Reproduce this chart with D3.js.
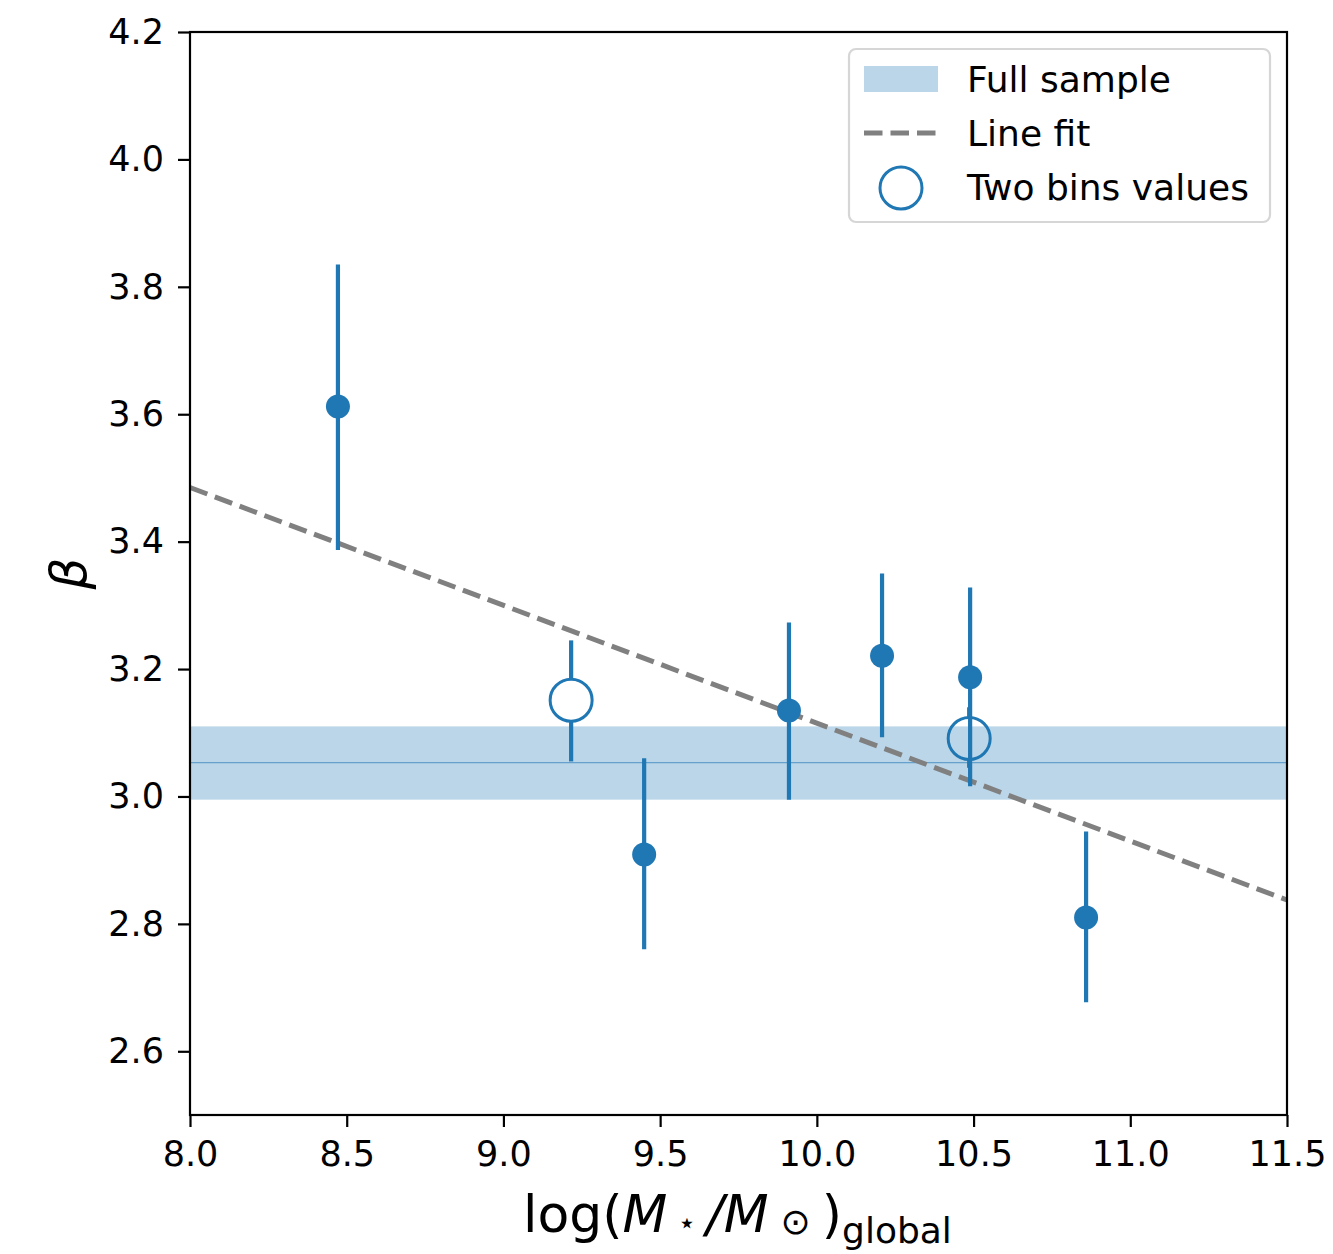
<!DOCTYPE html>
<html>
<head>
<meta charset="utf-8">
<script src="https://cdn.jsdelivr.net/npm/d3@7"></script>
<style>
  body { margin: 0; background: #fff; }
  text { font-family: "DejaVu Sans", sans-serif; }
</style>
</head>
<body>
<script>
// binned beta values (filled points)
var binMass = [8.472, 9.449, 9.911, 10.208, 10.489, 10.859];
var binBeta = [3.612, 2.909, 3.135, 3.221, 3.187, 2.810];
var binLo   = [3.387, 2.760, 2.995, 3.093, 3.016, 2.677];
var binHi   = [3.835, 3.060, 3.273, 3.350, 3.328, 2.945];

// two-bin values (open circles)
var twoMass = [9.216, 10.486];
var twoBeta = [3.151, 3.091];
var twoLo   = [3.055, 3.045];
var twoHi   = [3.245, 3.140];

// full-sample value and band
var fullBeta = 3.053, fullLo = 2.995, fullHi = 3.110;

// line fit: beta = a + b * (logM - 8)
var fitA = 3.485, fitB = -0.185;

var xTicks = [8.0, 8.5, 9.0, 9.5, 10.0, 10.5, 11.0, 11.5];
var yTicks = [2.6, 2.8, 3.0, 3.2, 3.4, 3.6, 3.8, 4.0, 4.2];

var width = 1333, height = 1254;
var margin = {left: 190, right: 46, top: 32, bottom: 139};
var blue = "#1f77b4";

var svg = d3.select("body").append("svg").attr("width", width).attr("height", height);

var x = d3.scaleLinear().domain([8.0, 11.5]).range([margin.left, width - margin.right]);
var y = d3.scaleLinear().domain([2.5, 4.2]).range([height - margin.bottom, margin.top]);

var plot = svg.append("g");

// open circles with their error bars (under the band)
twoMass.forEach(function(m, i){
  plot.append("line")
      .attr("x1", x(m)).attr("x2", x(m))
      .attr("y1", y(twoLo[i])).attr("y2", y(twoHi[i]))
      .attr("stroke", blue).attr("stroke-width", 4.2);
  plot.append("circle")
      .attr("cx", x(m)).attr("cy", y(twoBeta[i])).attr("r", 21)
      .attr("fill", "#fff").attr("stroke", blue).attr("stroke-width", 3);
});

// full sample band
plot.append("rect")
    .attr("x", x(8.0)).attr("width", x(11.5) - x(8.0))
    .attr("y", y(fullHi)).attr("height", y(fullLo) - y(fullHi))
    .attr("fill", blue).attr("fill-opacity", 0.3);
plot.append("line")
    .attr("x1", x(8.0)).attr("x2", x(11.5))
    .attr("y1", y(fullBeta)).attr("y2", y(fullBeta))
    .attr("stroke", blue).attr("stroke-opacity", 0.55).attr("stroke-width", 1.3);

// line fit
plot.append("line")
    .attr("x1", x(8.0)).attr("x2", x(11.5))
    .attr("y1", y(fitA)).attr("y2", y(fitA + fitB * 3.5))
    .attr("stroke", "#808080").attr("stroke-width", 5)
    .attr("stroke-dasharray", "18.5,8");

// filled points with error bars
binMass.forEach(function(m, i){
  plot.append("line")
      .attr("x1", x(m)).attr("x2", x(m))
      .attr("y1", y(binLo[i])).attr("y2", y(binHi[i]))
      .attr("stroke", blue).attr("stroke-width", 4.2);
  plot.append("circle")
      .attr("cx", x(m)).attr("cy", y(binBeta[i])).attr("r", 12)
      .attr("fill", blue);
});

// axes
var xAxis = d3.axisBottom(x).tickValues(xTicks).tickFormat(d3.format(".1f")).tickSizeOuter(0).tickSize(12).tickPadding(14);
var yAxis = d3.axisLeft(y).tickValues(yTicks).tickFormat(d3.format(".1f")).tickSizeOuter(0).tickSize(12).tickPadding(14);

var gx = svg.append("g").attr("transform", "translate(0," + (height - margin.bottom) + ")").call(xAxis);
var gy = svg.append("g").attr("transform", "translate(" + margin.left + ",0)").call(yAxis);
[gx, gy].forEach(function(g){
  g.select(".domain").remove();
  g.selectAll(".tick line").attr("stroke", "#000").attr("stroke-width", 2.2);
  g.selectAll(".tick text").attr("fill", "#000").style("font-size", "35px").style("font-family", "DejaVu Sans");
});

// frame
svg.append("rect")
    .attr("x", x(8.0)).attr("y", y(4.2))
    .attr("width", x(11.5) - x(8.0)).attr("height", y(2.5) - y(4.2))
    .attr("fill", "none").attr("stroke", "#000").attr("stroke-width", 2.2);

// x label
var xl = svg.append("text")
    .attr("x", 523).attr("y", 1232)
    .style("font-size", "52px");
xl.append("tspan").text("log(");
xl.append("tspan").style("font-style", "italic").text("M");
xl.append("tspan").attr("dx", 10).attr("dy", 1).style("font-size", "30px").text("\u22c6");
xl.append("tspan").attr("dx", 10).attr("dy", -1).style("font-style", "italic").text("/M");
xl.append("tspan").attr("dx", 12).attr("dy", 2).style("font-size", "36px").text("\u2299");
xl.append("tspan").attr("dx", 11).attr("dy", -2).text(")");
xl.append("tspan").attr("dy", 11).style("font-size", "36px").text("global");

// y label
svg.append("text")
    .attr("transform", "translate(86," + ((y(2.5) + y(4.2)) / 2) + ") rotate(-90)")
    .attr("text-anchor", "middle")
    .style("font-size", "50px").style("font-style", "italic")
    .text("\u03b2");

// legend
var lg = svg.append("g");
lg.append("rect")
    .attr("x", 849).attr("y", 49).attr("width", 421).attr("height", 173)
    .attr("rx", 7).attr("fill", "#fff").attr("fill-opacity", 0.8)
    .attr("stroke", "#d6d6d6").attr("stroke-width", 2.2);
lg.append("rect")
    .attr("x", 864).attr("y", 66).attr("width", 74).attr("height", 26)
    .attr("fill", blue).attr("fill-opacity", 0.3);
lg.append("line")
    .attr("x1", 864).attr("x2", 938).attr("y1", 133).attr("y2", 133)
    .attr("stroke", "#808080").attr("stroke-width", 5).attr("stroke-dasharray", "18.5,8");
lg.append("circle")
    .attr("cx", 901).attr("cy", 188).attr("r", 21)
    .attr("fill", "#fff").attr("stroke", blue).attr("stroke-width", 3);
var legendLabels = ["Full sample", "Line fit", "Two bins values"];
lg.selectAll(".lbl").data(legendLabels).enter().append("text")
    .attr("class", "lbl")
    .attr("x", 967).attr("y", function(d, i){ return 92 + i * 54; })
    .style("font-size", "36px")
    .text(function(d){ return d; });
</script>
</body>
</html>
